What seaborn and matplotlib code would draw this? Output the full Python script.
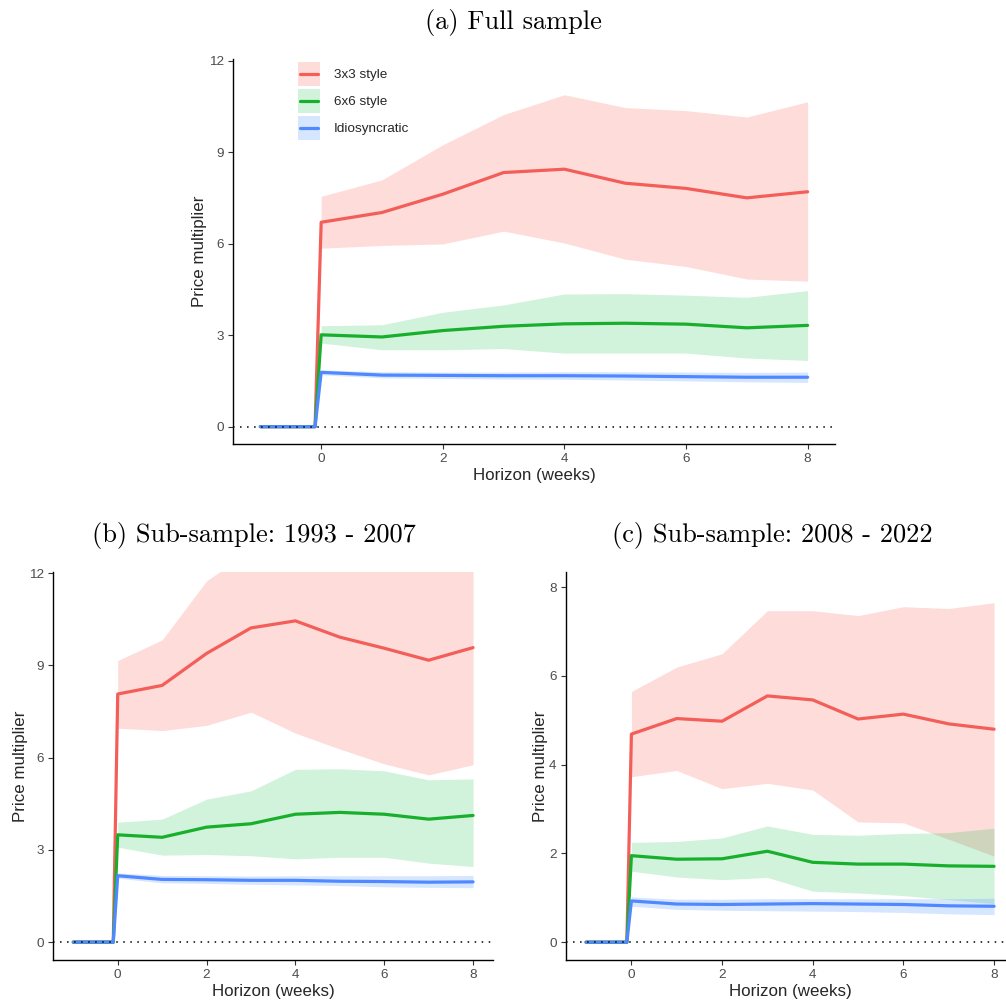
import numpy as np
import pandas as pd
import seaborn as sns
import matplotlib.pyplot as plt
from matplotlib.patches import Rectangle
from matplotlib.lines import Line2D
from matplotlib.legend_handler import HandlerBase

# horizons: line includes the pre-shock period, bands start at 0
horizon = [-1, -0.1, 0, 1, 2, 3, 4, 5, 6, 7, 8]
band_h = [0, 1, 2, 3, 4, 5, 6, 7, 8]
series = ["3x3 style", "6x6 style", "Idiosyncratic"]
pre = [0, 0]

# (a) Full sample
a_mean_3x3 = [6.70, 7.02, 7.62, 8.33, 8.44, 7.98, 7.81, 7.50, 7.70]
a_hi_3x3 = [7.55, 8.09, 9.24, 10.23, 10.88, 10.46, 10.36, 10.15, 10.65]
a_lo_3x3 = [5.85, 5.94, 5.99, 6.41, 6.02, 5.49, 5.25, 4.84, 4.77]
a_mean_6x6 = [3.01, 2.94, 3.15, 3.29, 3.37, 3.39, 3.36, 3.24, 3.32]
a_hi_6x6 = [3.31, 3.34, 3.75, 3.99, 4.35, 4.36, 4.31, 4.24, 4.46]
a_lo_6x6 = [2.74, 2.52, 2.52, 2.56, 2.41, 2.41, 2.41, 2.25, 2.17]
a_mean_idio = [1.78, 1.69, 1.68, 1.67, 1.67, 1.66, 1.64, 1.62, 1.62]
a_hi_idio = [1.86, 1.80, 1.79, 1.79, 1.80, 1.80, 1.79, 1.78, 1.79]
a_lo_idio = [1.70, 1.60, 1.58, 1.56, 1.55, 1.53, 1.50, 1.47, 1.45]

# (b) 1993 - 2007
b_mean_3x3 = [8.07, 8.35, 9.39, 10.22, 10.45, 9.92, 9.56, 9.17, 9.58]
b_hi_3x3 = [9.16, 9.83, 11.75, 12.75, 13.2, 13.5, 13.6, 13.8, 14.2]
b_lo_3x3 = [6.96, 6.88, 7.05, 7.48, 6.80, 6.28, 5.80, 5.44, 5.77]
b_mean_6x6 = [3.49, 3.41, 3.74, 3.85, 4.16, 4.22, 4.16, 4.00, 4.12]
b_hi_6x6 = [3.90, 4.00, 4.65, 4.92, 5.62, 5.64, 5.57, 5.28, 5.31]
b_lo_6x6 = [3.09, 2.83, 2.85, 2.81, 2.71, 2.76, 2.76, 2.57, 2.46]
b_mean_idio = [2.16, 2.04, 2.03, 2.01, 2.01, 1.98, 1.97, 1.95, 1.96]
b_hi_idio = [2.25, 2.17, 2.16, 2.15, 2.16, 2.16, 2.16, 2.16, 2.17]
b_lo_idio = [2.08, 1.93, 1.91, 1.88, 1.86, 1.84, 1.80, 1.78, 1.77]

# (c) 2008 - 2022
c_mean_3x3 = [4.69, 5.04, 4.98, 5.55, 5.46, 5.03, 5.14, 4.92, 4.80]
c_hi_3x3 = [5.65, 6.20, 6.50, 7.47, 7.47, 7.36, 7.56, 7.52, 7.65]
c_lo_3x3 = [3.73, 3.87, 3.46, 3.58, 3.43, 2.71, 2.69, 2.32, 1.94]
c_mean_6x6 = [1.95, 1.87, 1.88, 2.05, 1.80, 1.76, 1.76, 1.72, 1.71]
c_hi_6x6 = [2.25, 2.27, 2.35, 2.62, 2.43, 2.41, 2.45, 2.47, 2.57]
c_lo_6x6 = [1.60, 1.47, 1.41, 1.46, 1.15, 1.11, 1.05, 0.96, 0.87]
c_mean_idio = [0.93, 0.86, 0.85, 0.86, 0.87, 0.86, 0.85, 0.82, 0.81]
c_hi_idio = [1.02, 0.97, 0.97, 0.98, 0.98, 0.98, 0.98, 0.98, 0.99]
c_lo_idio = [0.81, 0.74, 0.72, 0.71, 0.70, 0.69, 0.67, 0.64, 0.62]

line_cols = {"3x3 style": "#F35E59", "6x6 style": "#17AF2C", "Idiosyncratic": "#5089FF"}
fill_cols = {"3x3 style": "#F8766D", "6x6 style": "#00BA38", "Idiosyncratic": "#619CFF"}
fill_alpha = {"3x3 style": 0.25, "6x6 style": 0.18, "Idiosyncratic": 0.25}

sns.set_style("ticks")
plt.rcParams["font.family"] = ["Liberation Sans", "DejaVu Sans"]

fig = plt.figure(figsize=(10.06, 10.01), dpi=100)


class RibbonKey(HandlerBase):
    # ggplot-like key: shaded box with the line through its middle
    def create_artists(self, legend, orig_handle, xdescent, ydescent,
                       width, height, fontsize, trans):
        s = orig_handle
        box = Rectangle((-xdescent, -ydescent), width, height, lw=0,
                        facecolor=fill_cols[s], alpha=fill_alpha[s], transform=trans)
        yc = -ydescent + height / 2
        pad = width * 0.08
        ln = Line2D([-xdescent + pad, -xdescent + width - pad], [yc, yc],
                    color=line_cols[s], lw=2.3, transform=trans)
        return [box, ln]


def draw_panel(ax, means, his, los, ylim, yticks):
    rows = []
    for s, m in zip(series, means):
        for h, v in zip(horizon, pre + m):
            rows.append({"horizon": h, "value": v, "series": s})
    df = pd.DataFrame(rows)

    for s, hi, lo in zip(series, his, los):
        ax.fill_between(band_h, lo, hi, color=fill_cols[s], alpha=fill_alpha[s],
                        lw=0, zorder=1)
    sns.lineplot(data=df, x="horizon", y="value", hue="series", hue_order=series,
                 palette=line_cols, lw=2.3, legend=False, errorbar=None,
                 ax=ax, zorder=2)
    ax.axhline(0, color="black", lw=1.1, ls=(0, (1, 3.6)), zorder=3)

    ax.set_xlim(-1.45, 8.45)
    ax.set_ylim(*ylim)
    ax.set_xticks([0, 2, 4, 6, 8])
    ax.set_yticks(yticks)
    ax.set_xlabel("Horizon (weeks)", fontsize=12.2, labelpad=2)
    ax.set_ylabel("Price multiplier", fontsize=12.2, labelpad=1)
    ax.tick_params(axis="both", labelsize=9.7, labelcolor="#4D4D4D",
                   color="#333333", length=3.5, width=0.8, pad=3)
    sns.despine(ax=ax)
    for sp in ["left", "bottom"]:
        ax.spines[sp].set_linewidth(1.0)
        ax.spines[sp].set_color("black")


ax_a = fig.add_axes([0.2316, 0.5564, 0.5984, 0.3846])
draw_panel(ax_a,
           [a_mean_3x3, a_mean_6x6, a_mean_idio],
           [a_hi_3x3, a_hi_6x6, a_hi_idio],
           [a_lo_3x3, a_lo_6x6, a_lo_idio],
           (-0.57, 12.05), [0, 3, 6, 9, 12])

ax_b = fig.add_axes([0.053, 0.041, 0.4371, 0.3879])
draw_panel(ax_b,
           [b_mean_3x3, b_mean_6x6, b_mean_idio],
           [b_hi_3x3, b_hi_6x6, b_hi_idio],
           [b_lo_3x3, b_lo_6x6, b_lo_idio],
           (-0.58, 12.05), [0, 3, 6, 9, 12])

ax_c = fig.add_axes([0.5623, 0.041, 0.4461, 0.3879])
draw_panel(ax_c,
           [c_mean_3x3, c_mean_6x6, c_mean_idio],
           [c_hi_3x3, c_hi_6x6, c_hi_idio],
           [c_lo_3x3, c_lo_6x6, c_lo_idio],
           (-0.40, 8.35), [0, 2, 4, 6, 8])

ax_a.legend(series, series, handler_map={str: RibbonKey()}, loc="upper left",
            bbox_to_anchor=(0.108, 0.992), frameon=False, fontsize=9.7,
            handlelength=1.6, handleheight=2.36, labelspacing=0.22,
            handletextpad=1.05, borderpad=0, borderaxespad=0)

title_font = dict(family="cmr10", fontsize=19, color="black", ha="center", va="center")
fig.text(0.510, 0.978, "(a) Full sample", **title_font)
fig.text(0.2525, 0.4655, "(b) Sub-sample: 1993 - 2007", **title_font)
fig.text(0.768, 0.4655, "(c) Sub-sample: 2008 - 2022", **title_font)

fig.savefig("out.png", dpi=100)
